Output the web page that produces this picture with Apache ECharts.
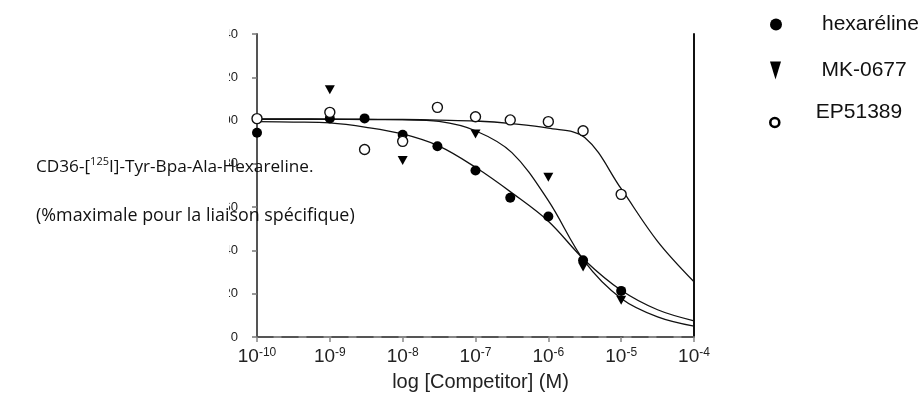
<!DOCTYPE html>
<html>
<head>
<meta charset="utf-8">
<script src="https://cdn.jsdelivr.net/npm/echarts@6/dist/echarts.min.js"></script>
<style>
html,body{margin:0;padding:0;background:#fff;}
#chart{width:919px;height:403px;}
</style>
</head>
<body>
<div id="chart"></div>
<script>
// ---- data ----
const xTickExponents = [-10, -9, -8, -7, -6, -5, -4];
const yTicks = [0, 20, 40, 60, 80, 100, 120, 140];

const hexaConc = [1e-10, 1e-9, 3e-9, 1e-8, 3e-8, 1e-7, 3e-7, 1e-6, 3e-6, 1e-5];
const hexaPct  = [94.4, 101, 101, 93.4, 88.1, 76.9, 64.3, 55.7, 35.5, 21.3];

const mkConc = [1e-9, 1e-8, 1e-7, 1e-6, 3e-6, 1e-5];
const mkPct  = [114.2, 81.5, 93.8, 73.8, 32.4, 17.0];

const epConc = [1e-10, 1e-9, 3e-9, 1e-8, 3e-8, 1e-7, 3e-7, 1e-6, 3e-6, 1e-5];
const epPct  = [100.9, 103.8, 86.6, 90.4, 106.1, 101.8, 100.3, 99.5, 95.3, 65.9];

// fitted curves, every half decade
const fitConc = [1e-10, 3.16e-10, 1e-9, 3.16e-9, 1e-8, 3.16e-8, 1e-7, 3.16e-7, 1e-6, 3.16e-6, 1e-5, 3.16e-5, 1e-4];
const hexaFitPct = [99.5, 99.3, 98.9, 96.9, 93.8, 88.2, 78.4, 66.6, 53.5, 35.5, 21.6, 12.6, 7.5];
const mkFitPct   = [100.6, 100.6, 100.6, 100.5, 100.4, 99.6, 95.3, 85.2, 63, 34.8, 17.8, 9.3, 5];
const epFitPct   = [100.8, 100.8, 100.7, 100.6, 100.5, 100.2, 99.8, 98.6, 96.5, 92.2, 68.5, 44.2, 25.5];

const seriesNames = ['hexaréline', 'MK-0677', 'EP51389'];
const yTitleLine1 = 'CD36-[{sup|125}I]-Tyr-Bpa-Ala-Hexareline.';
const yTitleLine2 = '(%maximale pour la liaison spécifique)';
const xTitle = 'log [Competitor] (M)';

// ---- build ----
function pts(conc, vals) { return conc.map((c, i) => [Math.log10(c), vals[i]]); }
const triDown = 'path://M0,0L10,0L5,9Z';
const triDownLegend = 'path://M0,0L11,0L5.5,18Z';
const sans = 'Liberation Sans, Arial, sans-serif';

const chart = echarts.init(document.getElementById('chart'), null, {renderer: 'canvas'});
const lineStyle = {color: '#111', width: 1.3};

chart.setOption({
  animation: false,
  backgroundColor: '#fff',
  grid: {left: 257, right: 225, top: 34, bottom: 66, containLabel: false},
  xAxis: [{
    type: 'value', min: -10, max: -4, interval: 1, position: 'bottom',
    name: xTitle, nameLocation: 'middle', nameGap: 35,
    nameTextStyle: {fontFamily: sans, fontSize: 20, color: '#222', padding: [0, 0, 0, 10]},
    axisLine: {lineStyle: {color: '#888', width: 2}},
    axisTick: {show: true, inside: false, length: 5, lineStyle: {color: '#888', width: 1.5}},
    splitLine: {show: false},
    axisLabel: {
      margin: 10, color: '#222',
      formatter: v => '{b|10}{s|' + v + '}',
      rich: {
        b: {fontFamily: sans, fontSize: 19, lineHeight: 20, color: '#222'},
        s: {fontFamily: sans, fontSize: 12, lineHeight: 20, verticalAlign: 'top', color: '#222'}
      }
    }
  }, {
    type: 'value', min: -10, max: -4, interval: 1, position: 'top',
    axisLine: {show: true, lineStyle: {color: '#444', width: 1.5, type: [16, 9]}},
    axisTick: {show: false}, axisLabel: {show: false}, splitLine: {show: false}
  }],
  yAxis: [{
    type: 'value', min: 0, max: 140, interval: 20, position: 'left',
    axisLine: {show: true, lineStyle: {color: '#555', width: 2}},
    axisTick: {show: true, inside: false, length: 5, lineStyle: {color: '#777', width: 1.5}},
    splitLine: {show: false},
    axisLabel: {margin: 19, color: '#222', fontFamily: sans, fontSize: 13}
  }, {
    type: 'value', min: 0, max: 140, interval: 20, position: 'right',
    axisLine: {show: true, lineStyle: {color: '#111', width: 2}},
    axisTick: {show: false}, axisLabel: {show: false}, splitLine: {show: false}
  }],
  legend: [
    {data: [{name: seriesNames[0], icon: 'circle'}], orient: 'vertical', left: 770, top: 14, padding: 0,
     itemWidth: 82, itemHeight: 12, textStyle: {fontFamily: sans, fontSize: 21, color: '#111'}},
    {data: [{name: seriesNames[1], icon: triDownLegend}], orient: 'vertical', left: 770, top: 60, padding: 0,
     itemWidth: 82, itemHeight: 18, textStyle: {fontFamily: sans, fontSize: 21, color: '#111'}},
    {data: [{name: seriesNames[2], icon: 'circle', itemStyle: {borderWidth: 2.6, borderColor: '#000', color: '#fff'}}],
     orient: 'vertical', left: 769, top: 102, padding: 0,
     itemWidth: 72, itemHeight: 9,
     formatter: n => '{a|' + n + '}',
     textStyle: {fontFamily: sans, fontSize: 21, color: '#111',
       rich: {a: {fontFamily: sans, fontSize: 21, color: '#111', padding: [0, 0, 20, 0]}}}}
  ],
  series: [
    {type: 'line', data: pts(fitConc, hexaFitPct), smooth: 0.35, showSymbol: false,
     lineStyle: lineStyle, z: 2, silent: true},
    {type: 'line', data: pts(fitConc, mkFitPct), smooth: 0.35, showSymbol: false,
     lineStyle: lineStyle, z: 2, silent: true},
    {type: 'line', data: pts(fitConc, epFitPct), smooth: 0.35, showSymbol: false,
     lineStyle: lineStyle, z: 2, silent: true},
    {name: seriesNames[0], type: 'scatter', data: pts(hexaConc, hexaPct), symbol: 'circle', symbolSize: 10,
     itemStyle: {color: '#000', opacity: 1}, z: 5},
    {name: seriesNames[1], type: 'scatter', data: pts(mkConc, mkPct), symbol: triDown, symbolSize: [10, 9],
     itemStyle: {color: '#000', opacity: 1}, z: 5},
    {name: seriesNames[2], type: 'scatter', data: pts(epConc, epPct), symbol: 'circle', symbolSize: 10,
     itemStyle: {color: '#fff', borderColor: '#111', borderWidth: 1.4, opacity: 1}, z: 6}
  ],
  graphic: [
    {type: 'rect', shape: {x: 190, y: 15, width: 39, height: 335}, style: {fill: '#fff'}, z: 100, silent: true},
    {type: 'text', x: 36, y: 167, z: 110, silent: true,
     style: {text: yTitleLine1, verticalAlign: 'middle', fill: '#111',
       font: '17.2px "Open Sans", sans-serif',
       rich: {sup: {fontSize: 11, fontFamily: '"Open Sans", sans-serif', verticalAlign: 'top', lineHeight: 22, fill: '#111'}}}},
    {type: 'text', x: 36, y: 216, z: 110, silent: true,
     style: {text: yTitleLine2, verticalAlign: 'middle', fill: '#111', font: '17.9px "Open Sans", sans-serif'}}
  ]
});
</script>
</body>
</html>
